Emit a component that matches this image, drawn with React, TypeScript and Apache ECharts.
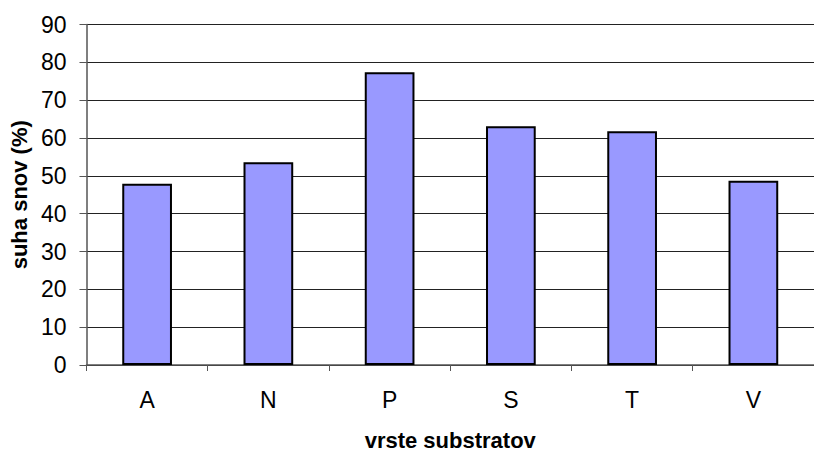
import React, { useEffect, useRef } from "react";
import * as echarts from "echarts";

const categories = ["A", "N", "P", "S", "T", "V"];
const values = [47.9, 53.6, 77.4, 63.1, 61.8, 48.7];
const yMin = 0;
const yMax = 90;
const yInterval = 10;

export default function App() {
  const ref = useRef<HTMLDivElement>(null);
  useEffect(() => {
    if (!ref.current) return;
    const chart = echarts.init(ref.current, null, { renderer: "svg" });
    chart.setOption({
      animation: false,
      backgroundColor: "#ffffff",
      grid: { left: 86, right: -10, top: 24.5, bottom: 84, containLabel: false },
      xAxis: {
        type: "category",
        data: categories,
        name: "vrste substratov",
        nameLocation: "middle",
        nameGap: 64,
        nameTextStyle: { fontFamily: "Liberation Sans", fontSize: 22, fontWeight: "bold", color: "#000" },
        axisLine: { lineStyle: { color: "#555", width: 1.5 } },
        axisTick: { show: true, length: 6, alignWithLabel: false, lineStyle: { color: "#555" } },
        axisLabel: { fontFamily: "Liberation Sans", fontSize: 23, color: "#000", margin: 23 },
      },
      yAxis: {
        type: "value",
        min: yMin,
        max: yMax,
        interval: yInterval,
        name: "suha snov (%)",
        nameLocation: "middle",
        nameGap: 49,
        nameTextStyle: { fontFamily: "Liberation Sans", fontSize: 22, fontWeight: "bold", color: "#000" },
        axisLine: { show: true, lineStyle: { color: "#555", width: 1.5 } },
        axisTick: { show: true, length: 7, inside: false, lineStyle: { color: "#555" } },
        axisLabel: { fontFamily: "Liberation Sans", fontSize: 23, color: "#000", margin: 20 },
        splitLine: { show: true, lineStyle: { color: "#222", width: 1 } },
      },
      series: [
        {
          type: "bar",
          data: values,
          barCategoryGap: "59%",
          itemStyle: { color: "#9999FF", borderColor: "#000", borderWidth: 2 },
        },
      ],
    });
    return () => chart.dispose();
  }, []);
  return <div ref={ref} style={{ width: 814, height: 456, position: "absolute", left: 0, top: 0 }} />;
}
